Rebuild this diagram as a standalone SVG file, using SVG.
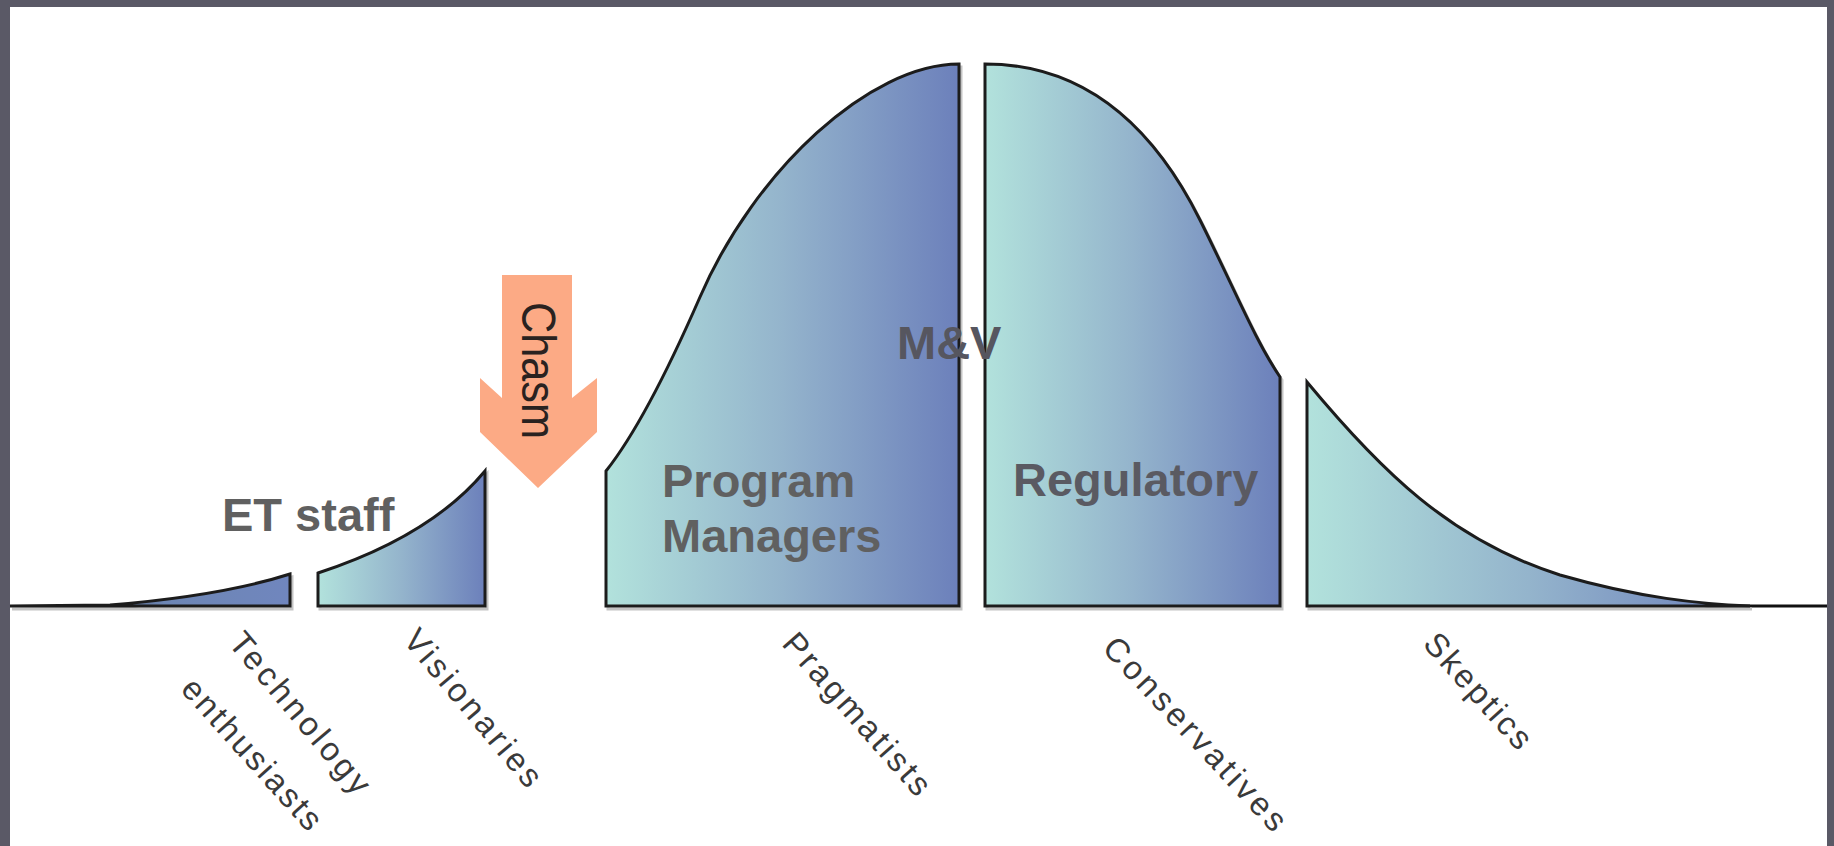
<svg xmlns="http://www.w3.org/2000/svg" xmlns:xlink="http://www.w3.org/1999/xlink" width="1834" height="846" viewBox="0 0 1834 846">
<defs>
<linearGradient id="g" x1="0" y1="0" x2="1" y2="0">
<stop offset="0" stop-color="#b2e2dc"/>
<stop offset="0.5" stop-color="#94b4cc"/>
<stop offset="1" stop-color="#6c80bb"/>
</linearGradient>
<linearGradient id="gt" x1="0" y1="0" x2="1" y2="0">
<stop offset="0" stop-color="#222"/>
<stop offset="0.55" stop-color="#6d86b4"/>
<stop offset="1" stop-color="#7086be"/>
</linearGradient>
<path id="p-tech" d="M10,606 L110,605 C170,600 240,590 290,574 L290,606 Z"/>
<path id="p-vis" d="M318,606 L318,573 C370,556 440,525 485,471 L485,606 Z"/>
<path id="p-prag" d="M606,606 L606,471 C637,432 669,368 700,297 C755,170 870,64 959,64 L959,606 Z"/>
<path id="p-cons" d="M985,606 L985,64 C1080,64 1150,120 1200,220 C1235,290 1255,340 1280,377 L1280,606 Z"/>
<path id="p-skep" d="M1307,606 L1307,382 C1380,470 1450,540 1560,575 C1640,598 1700,604 1750,606 Z"/>
</defs>
<style>
.shadow{fill:none;stroke:#c4c4c4;stroke-width:3}
.piece{stroke:#1c1c1c;stroke-width:3;stroke-linejoin:miter}
.big{font-family:"Liberation Sans",Arial,sans-serif;font-weight:bold;font-size:47px;fill:#606060}
.lbl{font-family:"Liberation Sans",Arial,sans-serif;font-size:33px;fill:#3a3a3a;text-anchor:middle}
</style>
<rect x="0" y="0" width="1834" height="846" fill="#5a5966"/>
<rect x="10" y="7" width="1817" height="839" fill="#ffffff"/>

<g id="connectors">
<line x1="1740" y1="606" x2="1827" y2="606" stroke="#111" stroke-width="3"/>
</g>

<g id="node-tech">
<use xlink:href="#p-tech" class="shadow" transform="translate(2,3)"/>
<use xlink:href="#p-tech" class="piece" fill="url(#gt)"/>
</g>
<g id="node-vis">
<use xlink:href="#p-vis" class="shadow" transform="translate(2,3)"/>
<use xlink:href="#p-vis" class="piece" fill="url(#g)"/>
</g>
<g id="node-prag">
<use xlink:href="#p-prag" class="shadow" transform="translate(2,3)"/>
<use xlink:href="#p-prag" class="piece" fill="url(#g)"/>
</g>
<g id="node-cons">
<use xlink:href="#p-cons" class="shadow" transform="translate(2,3)"/>
<use xlink:href="#p-cons" class="piece" fill="url(#g)"/>
</g>
<g id="node-skep">
<use xlink:href="#p-skep" class="shadow" transform="translate(2,3)"/>
<use xlink:href="#p-skep" class="piece" fill="url(#g)"/>
</g>

<g id="node-chasm">
<polygon points="502,275 572,275 572,398 597,378 597,432 538,488 480,432 480,378 502,398" fill="#fcaa85"/>
<text transform="translate(522,302) rotate(90)" font-family="Liberation Sans,Arial,sans-serif" font-size="48" fill="#2a2220" textLength="137" lengthAdjust="spacingAndGlyphs">Chasm</text>
</g>

<g id="labels">
<text class="big" x="222" y="531">ET staff</text>
<text class="big" x="662" y="497">Program</text>
<text class="big" x="662" y="552">Managers</text>
<text class="big" x="897" y="359" style="fill:#56565f">M&amp;V</text>
<text class="big" x="1013" y="496" style="fill:#5a5a62">Regulatory</text>
</g>

<g id="axis-labels">
<text class="lbl" transform="translate(300,713) rotate(50)" y="11" textLength="200" lengthAdjust="spacing">Technology</text>
<text class="lbl" transform="translate(252,754) rotate(48)" y="11" textLength="192" lengthAdjust="spacing">enthusiasts</text>
<text class="lbl" transform="translate(473,708) rotate(50)" y="11" textLength="195" lengthAdjust="spacing">Visionaries</text>
<text class="lbl" transform="translate(857,714) rotate(48.5)" y="11" textLength="205" lengthAdjust="spacing">Pragmatists</text>
<text class="lbl" transform="translate(1195,734) rotate(47)" y="11" textLength="252" lengthAdjust="spacing">Conservatives</text>
<text class="lbl" transform="translate(1478,691) rotate(48)" y="11" textLength="144" lengthAdjust="spacing">Skeptics</text>
</g>
</svg>
